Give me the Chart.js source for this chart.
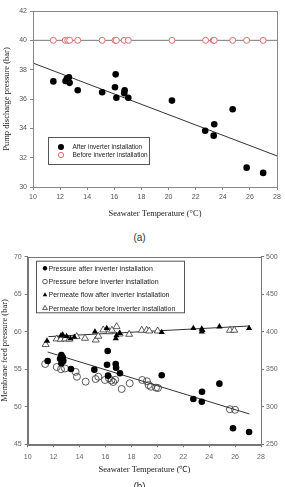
<!DOCTYPE html>
<html>
<head>
<meta charset="utf-8">
<script src="https://cdn.jsdelivr.net/npm/chart.js@4/dist/chart.umd.min.js"></script>
<style>
  body { margin: 0; background: #fff; width: 285px; height: 487px; overflow: hidden; position: relative; }
  canvas { position: absolute; left: 0; }
  #chartA { top: 0; }
  #chartB { top: 245px; }
  .cap { position: absolute; width: 285px; left: -3px; text-align: center; font: 10px "Liberation Sans", Arial, sans-serif; color: #333; }
</style>
</head>
<body>
<canvas id="chartA" width="285" height="225"></canvas>
<div class="cap" style="top:232px">(a)</div>
<canvas id="chartB" width="285" height="242"></canvas>
<div class="cap" style="top:481px">(b)</div>
<script>
// ---- (a) pump discharge pressure ----
const afterTempA  = [11.5, 12.4, 12.5, 12.65, 12.7, 13.3, 15.1, 16.05, 16.1, 16.15, 16.73, 16.76, 17.03, 20.25, 22.7, 23.33, 23.37, 24.73, 25.76, 26.98];
const afterPressA = [37.2, 37.23, 37.39, 37.48, 37.1, 36.6, 36.46, 36.8, 37.68, 36.09, 36.4, 36.6, 36.09, 35.89, 33.84, 33.5, 34.28, 35.3, 31.32, 30.96];
const beforeTempA  = [11.5, 12.38, 12.56, 12.7, 13.3, 15.1, 16.05, 16.15, 16.73, 17.03, 20.25, 22.73, 23.3, 23.37, 24.73, 25.76, 26.98];
const beforePressA = [40, 40, 40, 40, 40, 40, 40, 40, 40, 40, 40, 40, 40, 40, 40, 40, 40];
const trendA    = [[10, 38.45], [28, 32.12]];
const baselineA = [[10, 40], [28, 40]];

// ---- (b) membrane feed pressure / permeate flow ----
const pAfterT = [11.54, 12.5, 12.6, 12.7, 12.75, 12.6, 13.34, 15.14, 16.17, 16.12, 16.2, 16.79, 16.82, 17.12, 20.34, 22.78, 23.45, 23.43, 24.79, 25.84, 27.08];
const pAfterP = [56.1, 56.4, 56.9, 56.6, 56.1, 55.8, 55.04, 54.95, 57.44, 55.6, 54.15, 55.7, 55.2, 54.47, 54.2, 51.04, 52.0, 50.68, 53.08, 47.13, 46.64];
const pBeforeT = [11.35, 12.24, 12.57, 12.88, 13.7, 13.8, 14.47, 15.24, 15.45, 15.96, 16.27, 16.45, 16.6, 16.75, 17.25, 17.87, 18.84, 19.2, 19.33, 19.51, 19.9, 20.05, 25.6, 26.0];
const pBeforeP = [55.7, 55.3, 55.0, 55.1, 54.65, 54.0, 53.35, 53.7, 54.0, 53.57, 53.8, 53.5, 53.3, 53.6, 52.37, 53.13, 53.57, 53.4, 52.9, 52.67, 52.55, 52.5, 49.67, 49.6];
const fAfterT = [11.49, 12.57, 12.7, 13.0, 13.3, 13.6, 15.19, 16.1, 16.8, 16.85, 17.1, 20.34, 22.78, 23.43, 23.43, 23.48, 24.79, 27.08];
const fAfterF = [387.7, 394.8, 396, 394, 391, 393, 400, 404.6, 391, 395, 398, 399.3, 404.6, 403.7, 400, 402, 406.8, 404.6];
const fBeforeT = [11.38, 12.24, 12.55, 12.88, 13.21, 13.78, 14.42, 15.25, 15.45, 15.83, 16.3, 16.5, 16.86, 17.1, 17.83, 18.8, 19.18, 19.38, 20.03, 25.6, 25.94];
const fBeforeF = [383, 390.4, 390, 390.4, 390, 393.5, 391.3, 389, 394, 402.4, 400, 402, 406.8, 397, 396.6, 402, 402, 401, 401, 402, 402];
const trendPress = [[11.54, 57.3], [27.1, 49.04]];
const trendFlow  = [[11.6, 393.5], [27.15, 407.7]];

function pts(xs, ys) {
  return xs.map((x, i) => ({x: x, y: ys[i]}));
}
function pairs(arr) {
  return arr.map(p => ({x: p[0], y: p[1]}));
}

const tickFont = {family: '"Liberation Sans", Arial, sans-serif', size: 7};
const titleFont = {family: '"Liberation Serif", "Times New Roman", serif', size: 8.5};

// draws a box around the plot area
function framePlugin(color) {
  return {
    id: 'frame',
    afterDraw(chart) {
      const a = chart.chartArea;
      const ctx = chart.ctx;
      ctx.save();
      ctx.strokeStyle = color;
      ctx.lineWidth = 1;
      ctx.strokeRect(Math.round(a.left) + 0.5, Math.round(a.top) + 0.5, Math.round(a.right - a.left), Math.round(a.bottom - a.top));
      ctx.restore();
    }
  };
}

// legend drawn inside the plot, like the original figure
function legendPlugin(box, rowGap, markerX, textX, fontSize, items) {
  return {
    id: 'innerLegend',
    afterDraw(chart) {
      const ctx = chart.ctx;
      ctx.save();
      ctx.fillStyle = '#fff';
      ctx.fillRect(box.x, box.y, box.w, box.h);
      ctx.strokeStyle = '#555';
      ctx.lineWidth = 1;
      ctx.strokeRect(box.x + 0.5, box.y + 0.5, box.w, box.h);
      items.forEach((it, i) => {
        const y = box.y + box.first + i * rowGap;
        ctx.fillStyle = it.fill;
        ctx.strokeStyle = it.stroke;
        ctx.lineWidth = it.bw;
        Chart.helpers.drawPoint(ctx, {pointStyle: it.style, radius: it.r, rotation: 0, borderWidth: it.bw}, box.x + markerX, y);
        ctx.fillStyle = '#222';
        ctx.font = fontSize + 'px "Liberation Sans", Arial, sans-serif';
        ctx.textBaseline = 'middle';
        ctx.textAlign = 'left';
        ctx.fillText(it.label, box.x + textX, y + 0.5);
      });
      ctx.restore();
    }
  };
}

new Chart(document.getElementById('chartA'), {
  type: 'scatter',
  data: {
    datasets: [
      {
        label: 'After inverter installation',
        data: pts(afterTempA, afterPressA),
        pointRadius: 3.3,
        backgroundColor: '#000',
        borderColor: '#000',
        borderWidth: 0,
        order: 1
      },
      {
        label: 'Before inverter installation',
        data: pts(beforeTempA, beforePressA),
        pointRadius: 3,
        backgroundColor: '#fff',
        borderColor: '#e5686b',
        borderWidth: 1,
        order: 1
      },
      {
        type: 'line',
        data: pairs(trendA),
        borderColor: '#333',
        borderWidth: 1,
        pointRadius: 0,
        order: 2
      },
      {
        type: 'line',
        data: pairs(baselineA),
        borderColor: '#777',
        borderWidth: 1,
        pointRadius: 0,
        order: 2
      }
    ]
  },
  options: {
    responsive: false,
    animation: false,
    devicePixelRatio: 1,
    layout: {padding: {top: 11, right: 8, left: 0, bottom: 0}},
    plugins: {legend: {display: false}, tooltip: {enabled: false}},
    scales: {
      x: {
        type: 'linear', min: 10, max: 28,
        afterFit(s) { s.height = 38; },
        ticks: {stepSize: 2, font: tickFont, color: '#555', padding: 3},
        grid: {drawOnChartArea: false, drawTicks: true, tickLength: 3, color: '#888'},
        border: {color: '#888'},
        title: {display: true, text: 'Seawater Temperature (°C)', font: titleFont, color: '#222', padding: {top: 0, bottom: 6}}
      },
      y: {
        min: 30, max: 42,
        afterFit(s) { s.width = 33; },
        ticks: {stepSize: 2, font: tickFont, color: '#555', padding: 3},
        grid: {drawOnChartArea: false, drawTicks: true, tickLength: 3, color: '#888'},
        border: {color: '#888'},
        title: {display: true, text: 'Pump discharge pressure (bar)', font: titleFont, color: '#222', padding: {top: 2, bottom: 0}}
      }
    }
  },
  plugins: [
    framePlugin('#888'),
    legendPlugin({x: 48, y: 137, w: 101, h: 27, first: 10}, 8, 13, 24.5, 6.5, [
      {label: 'After inverter installation', style: 'circle', r: 3, fill: '#000', stroke: '#000', bw: 0},
      {label: 'Before inverter installation', style: 'circle', r: 2.6, fill: '#fff', stroke: '#e5686b', bw: 1}
    ])
  ]
});

new Chart(document.getElementById('chartB'), {
  type: 'scatter',
  data: {
    datasets: [
      {
        label: 'Pressure after inverter installation',
        data: pts(pAfterT, pAfterP),
        yAxisID: 'y',
        pointRadius: 3.3,
        backgroundColor: '#000',
        borderColor: '#000',
        borderWidth: 0,
        order: 1
      },
      {
        label: 'Pressure before inverter installation',
        data: pts(pBeforeT, pBeforeP),
        yAxisID: 'y',
        pointRadius: 3.5,
        backgroundColor: 'rgba(255,255,255,0)',
        borderColor: '#333',
        borderWidth: 0.8,
        order: 1
      },
      {
        label: 'Permeate flow after inverter installation',
        data: pts(fAfterT, fAfterF),
        yAxisID: 'y2',
        pointStyle: 'triangle',
        pointRadius: 3.6,
        backgroundColor: '#000',
        borderColor: '#000',
        borderWidth: 0,
        order: 1
      },
      {
        label: 'Permeate flow before inverter installation',
        data: pts(fBeforeT, fBeforeF),
        yAxisID: 'y2',
        pointStyle: 'triangle',
        pointRadius: 4,
        backgroundColor: '#fff',
        borderColor: '#333',
        borderWidth: 0.8,
        order: 1
      },
      {
        type: 'line',
        data: pairs(trendPress),
        yAxisID: 'y',
        borderColor: '#333',
        borderWidth: 1,
        pointRadius: 0,
        order: 2
      },
      {
        type: 'line',
        data: pairs(trendFlow),
        yAxisID: 'y2',
        borderColor: '#333',
        borderWidth: 1,
        pointRadius: 0,
        order: 2
      }
    ]
  },
  options: {
    responsive: false,
    animation: false,
    devicePixelRatio: 1,
    layout: {padding: {top: 11.7, right: 0, left: 0, bottom: 0}},
    plugins: {legend: {display: false}, tooltip: {enabled: false}},
    scales: {
      x: {
        type: 'linear', min: 10, max: 28,
        afterFit(s) { s.height = 42.7; },
        ticks: {stepSize: 2, font: tickFont, color: '#666', padding: 6},
        grid: {drawOnChartArea: false, drawTicks: true, tickLength: 3, color: '#777'},
        border: {color: '#777'},
        title: {display: true, text: 'Seawater Temperature (℃)', font: titleFont, color: '#222', padding: {top: 0, bottom: 12}}
      },
      y: {
        position: 'left',
        min: 45, max: 70,
        afterFit(s) { s.width = 27.7; },
        ticks: {stepSize: 5, font: tickFont, color: '#666', padding: 3},
        grid: {drawOnChartArea: false, drawTicks: true, tickLength: 3, color: '#777'},
        border: {color: '#777'},
        title: {display: true, text: 'Membrane feed pressure (bar)', font: titleFont, color: '#222', padding: {top: 0, bottom: 0}}
      },
      y2: {
        position: 'right',
        min: 250, max: 500,
        afterFit(s) { s.width = 24; },
        ticks: {stepSize: 50, font: tickFont, color: '#666', padding: 2},
        grid: {drawOnChartArea: false, drawTicks: true, tickLength: 3, color: '#777'},
        border: {color: '#777'}
      }
    }
  },
  plugins: [
    framePlugin('#777'),
    legendPlugin({x: 36, y: 15.7, w: 148, h: 51.6, first: 7.6}, 13.3, 9, 12.5, 7, [
      {label: 'Pressure after inverter installation', style: 'circle', r: 2.2, fill: '#000', stroke: '#000', bw: 0},
      {label: 'Pressure before inverter installation', style: 'circle', r: 2.3, fill: '#fff', stroke: '#333', bw: 0.8},
      {label: 'Permeate flow after inverter installation', style: 'triangle', r: 2.6, fill: '#000', stroke: '#000', bw: 0},
      {label: 'Permeate flow before inverter installation', style: 'triangle', r: 2.8, fill: '#fff', stroke: '#333', bw: 0.8}
    ])
  ]
});
</script>
</body>
</html>
